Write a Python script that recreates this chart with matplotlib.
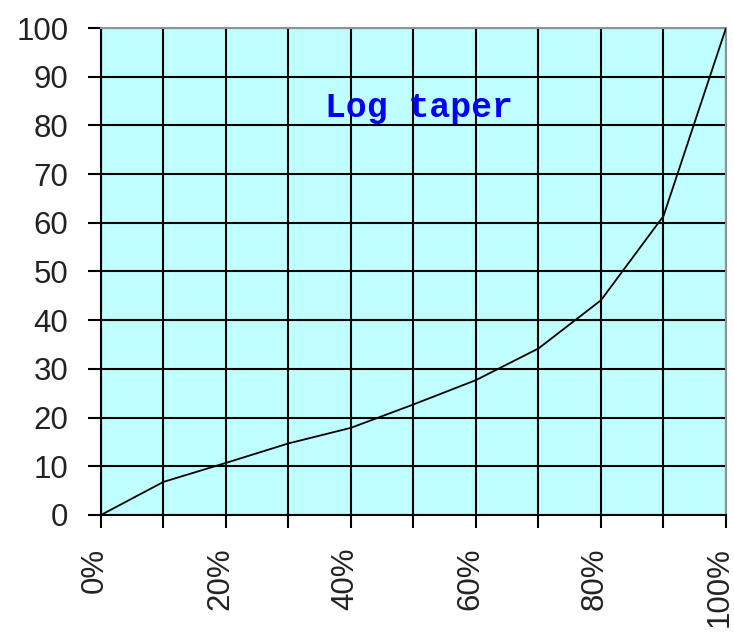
import matplotlib
matplotlib.use("Agg")
import matplotlib.pyplot as plt
import matplotlib.transforms as mtransforms

# rotation position (%) and output level
rotation = [0, 10, 20, 30, 40, 50, 60, 70, 80, 90, 100]
level = [0, 6.8, 10.7, 14.7, 17.9, 22.7, 27.7, 34.2, 44.1, 61.4, 100]
yticks = list(range(0, 101, 10))
xlabels = [f"{v}%" if v % 20 == 0 else "" for v in rotation]

fig = plt.figure(figsize=(7.34, 6.41), dpi=100)
ax = fig.add_axes([0.1376, 0.1966, 0.8515, 0.7597])
ax.set_facecolor("#C0FFFF")

ax.plot(rotation, level, color="black", lw=1.3, zorder=3)

ax.set_xlim(0, 100)
ax.set_ylim(0, 100)
ax.set_xticks(rotation)
ax.set_xticklabels(xlabels, rotation=90, fontsize=22.5, family="Liberation Sans", color="#222222")
ax.set_yticks(yticks)
ax.set_yticklabels([str(v) for v in yticks], fontsize=22.5, family="Liberation Sans", color="#222222")
ax.tick_params(axis="both", length=9.5, width=1.5, color="black")
ax.tick_params(axis="x", pad=14)
ax.tick_params(axis="y", pad=14)
ax.grid(True, color="black", lw=1.5, zorder=1)
ax.set_axisbelow(True)

# nudge the rotated labels a bit left, like the original
shift = mtransforms.ScaledTranslation(-6 / 100, 0, fig.dpi_scale_trans)
for lab in ax.get_xticklabels():
    lab.set_transform(lab.get_transform() + shift)

for side in ["left", "bottom"]:
    ax.spines[side].set_color("black")
    ax.spines[side].set_linewidth(1.5)
for side in ["top", "right"]:
    ax.spines[side].set_color("#909090")
    ax.spines[side].set_linewidth(1.5)

ax.text(0.508, 0.836, "Log taper", transform=ax.transAxes, ha="center", va="center",
        fontsize=25, fontweight="bold", family="Liberation Mono", color="#0000FF")

fig.savefig("out.png", dpi=100)
